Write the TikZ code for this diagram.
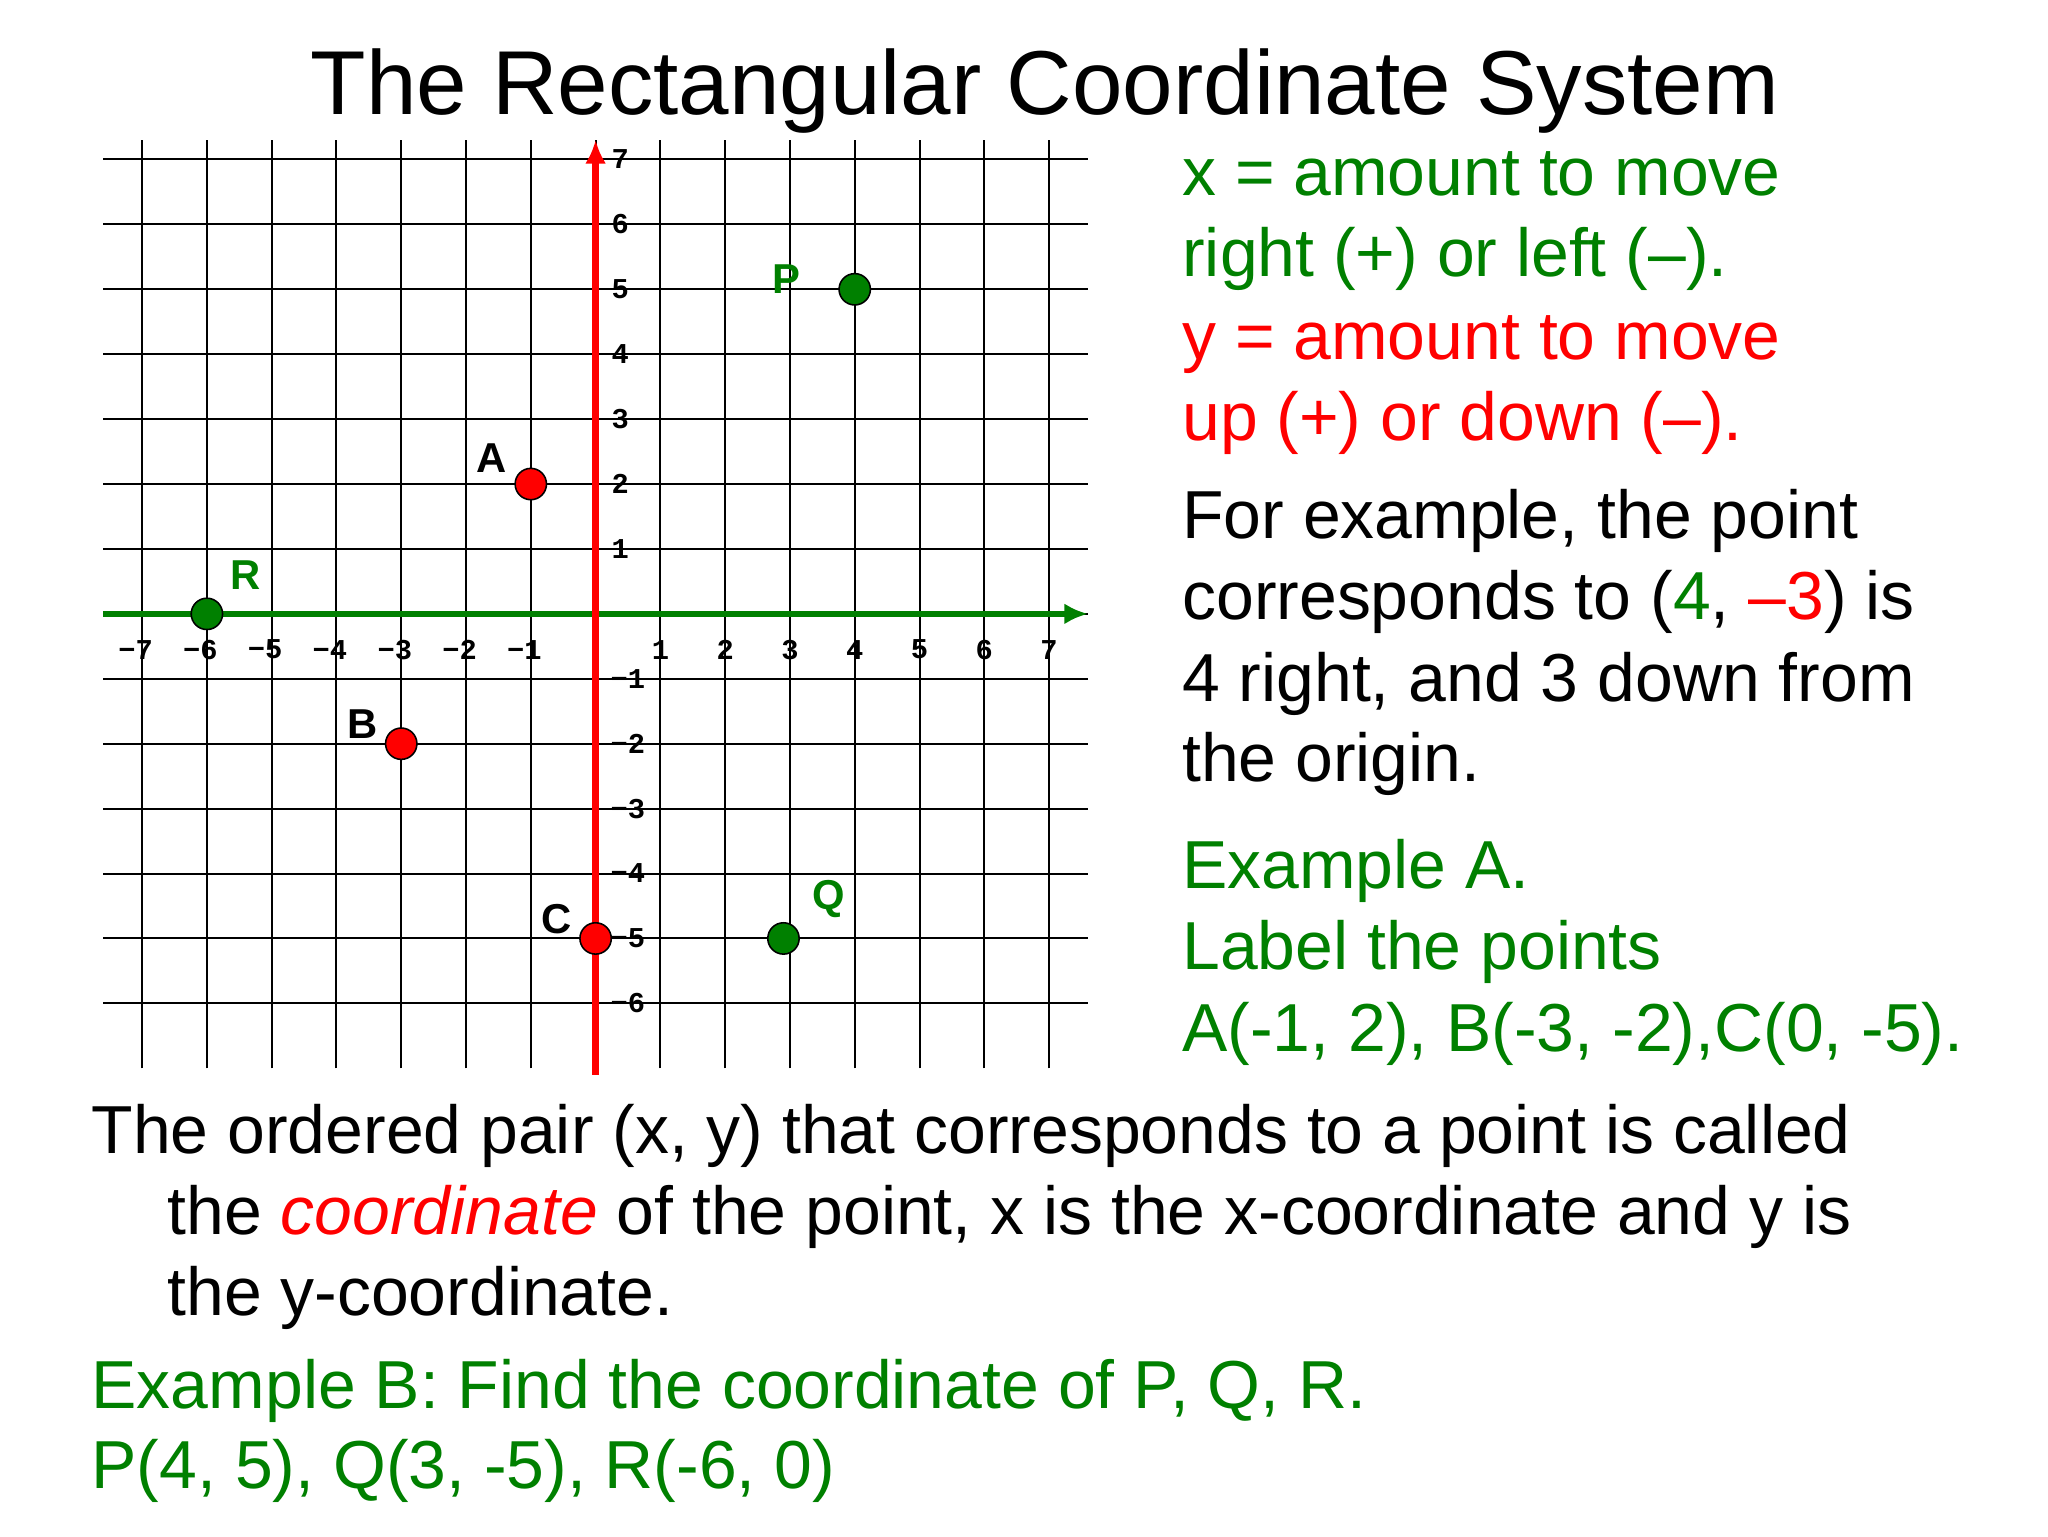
\documentclass[tikz,border=0pt]{standalone}
\usepackage{fontspec}
\usetikzlibrary{arrows.meta}
\setmainfont{Liberation Sans}
\newfontfamily\tickf{Liberation Mono}
\definecolor{gr}{RGB}{0,128,0}
\definecolor{rd}{RGB}{255,0,0}
\newcommand{\mns}{\symbol{"2212}}
\begin{document}
\begin{tikzpicture}[x=1pt,y=1pt,
  txt/.style={anchor=base west,inner sep=0,font=\fontsize{52}{52}\selectfont},
  tick/.style={inner sep=0,font=\tickf\bfseries\fontsize{22}{22}\selectfont},
  pt/.style={circle,draw=black,line width=1.2pt,minimum size=24pt,inner sep=0},
  lab/.style={font=\bfseries\fontsize{32}{32}\selectfont,inner sep=0}]
\useasboundingbox (0,0) rectangle (1568,1176);
\node[anchor=base,inner sep=0,font=\fontsize{69.5}{70}\selectfont] (title) at (800,1176-88) {The Rectangular Coordinate System};
\begin{scope}[shift={(456,706)},x=49.6pt,y=49.7pt]
  \foreach \i in {-7,...,7} {
    \draw[line width=1.5pt] (\i,-7) -- (\i,7.3);
  }
  \foreach \j in {-6,...,7} {
    \draw[line width=1.5pt] (-7.6,\j) -- (7.6,\j);
  }
  \coordinate (xl) at (-7.6,0); \coordinate (xr) at (7.6,0);
  \coordinate (yb) at (0,-7.1); \coordinate (yt) at (0,7.3);
  \draw[gr,line width=5pt,-{Latex[length=18pt,width=16pt]}] (xl) -- (xr);
  \draw[rd,line width=5pt,-{Latex[length=18pt,width=16pt]}] (yb) -- (yt);
  \foreach \i in {-7,...,-1} \node[tick] at (\i-0.1,-0.55) {\mns\the\numexpr-\i\relax};
  \foreach \i in {1,...,7} \node[tick] at (\i,-0.55) {\i};
  \foreach \j in {1,...,7} \node[tick] at (0.38,\j) {\j};
  \foreach \j in {-6,...,-1} \node[tick] at (0.5,\j) {\mns\the\numexpr-\j\relax};
  \node[pt,fill=rd] (A) at (-1,2) {};
  \node[pt,fill=rd] (B) at (-3,-2) {};
  \node[pt,fill=rd] (C) at (0,-5) {};
  \node[pt,fill=gr] (P) at (4,5) {};
  \node[pt,fill=gr] (Q) at (2.9,-5) {};
  \node[pt,fill=gr] (R) at (-6,0) {};
  \node[lab] at (-1.6,2.4) {A};
  \node[lab] at (-3.6,-1.7) {B};
  \node[lab] at (-0.6,-4.7) {C};
  \node[lab,gr] at (2.95,5.15) {P};
  \node[lab,gr] at (3.6,-4.4) {Q};
  \node[lab,gr] at (-5.4,0.6) {R};
\end{scope}
\node[txt,gr] (t1) at (905,1176-150) {x = amount to move};
\node[txt,gr] (t2) at (905,1176-212) {right (+) or left (--).};
\node[txt,rd] (t3) at (905,1176-275) {y = amount to move};
\node[txt,rd] (t4) at (905,1176-337) {up (+) or down (--).};
\node[txt] (t5) at (905,1176-412) {For example, the point};
\node[txt] (t6) at (905,1176-474) {corresponds to (\textcolor{gr}{4}, \textcolor{rd}{--3}) is};
\node[txt] (t7) at (905,1176-537) {4 right, and 3 down from};
\node[txt] (t8) at (905,1176-598) {the origin.};
\node[txt,gr] (t9) at (905,1176-680) {Example A.};
\node[txt,gr] (t10) at (905,1176-742) {Label the points};
\node[txt,gr] (t11) at (905,1176-805) {A(-1, 2), B(-3, -2),C(0, -5).};
\node[txt] (b1) at (70,1176-883) {The ordered pair (x, y) that corresponds to a point is called};
\node[txt] (b2) at (128,1176-945) {the \textcolor{rd}{\itshape coordinate} of the point, x is the x-coordinate and y is};
\node[txt] (b3) at (128,1176-1007) {the y-coordinate.};
\node[txt,gr] (b4) at (70,1176-1078) {Example B: Find the coordinate of P, Q, R.};
\node[txt,gr] (b5) at (70,1176-1140) {P(4, 5), Q(3, -5), R(-6, 0)};
\end{tikzpicture}
\end{document}
